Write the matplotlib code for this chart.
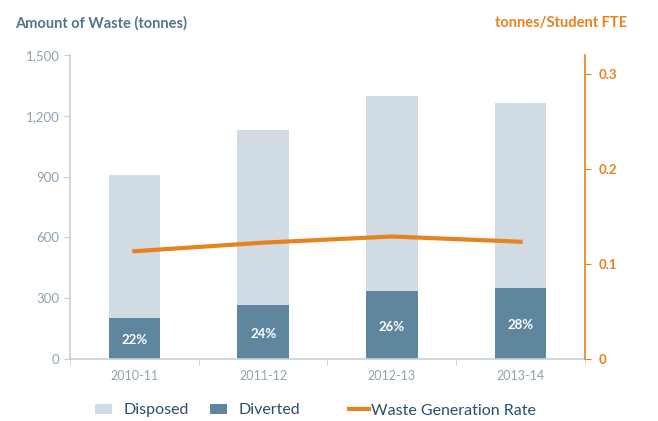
import matplotlib
matplotlib.use("Agg")
import matplotlib.pyplot as plt
import numpy as np
from matplotlib.ticker import FuncFormatter

# ---- data ------------------------------------------------------------------
years = ["2010-11", "2011-12", "2012-13", "2013-14"]
total_waste = [908, 1130, 1298, 1263]        # disposed + diverted (tonnes)
diverted = [202, 266, 335, 350]              # tonnes
diversion_pct = ["22%", "24%", "26%", "28%"]
rate = [0.1135, 0.1225, 0.129, 0.1235]       # tonnes / student FTE

# ---- style -----------------------------------------------------------------
plt.rcParams["font.family"] = ["Lato", "DejaVu Sans"]
C_DISP = "#d0dbe3"
C_DIV = "#5e879f"
C_ORANGE = "#e8821e"
C_TITLE = "#567489"
C_TICK = "#8ea4b4"
C_SPINE = "#c3d0da"
C_LEG = "#2a4d6e"

fig = plt.figure(figsize=(6.58, 4.21), dpi=100)
ax = fig.add_axes([0.1064, 0.1473, 0.7826, 0.7217])

x = np.arange(len(years))
disposed = [t - d for t, d in zip(total_waste, diverted)]
w = 0.4
ax.bar(x, diverted, w, color=C_DIV, label="Diverted", zorder=2)
ax.bar(x, disposed, w, bottom=diverted, color=C_DISP, label="Disposed", zorder=2)

for xi, d, p in zip(x, diverted, diversion_pct):
    ax.text(xi, d * 0.5 - 8, p, ha="center", va="center", color="white",
            fontsize=9.5, fontweight="bold")

ax.set_xlim(-0.5, len(years) - 0.5)
ax.set_ylim(0, 1500)
ax.set_yticks(np.arange(0, 1501, 300))
ax.yaxis.set_major_formatter(FuncFormatter(lambda v, _: f"{int(v):,}"))
ax.set_xticks(x)
ax.set_xticklabels(years)
ax.set_xticks(np.arange(-0.5, len(years)), minor=True)
ax.tick_params(axis="x", which="major", length=0, colors=C_TICK, labelsize=9, pad=8)
ax.tick_params(axis="x", which="minor", length=4, color=C_SPINE, direction="out")
ax.tick_params(axis="y", length=4, color=C_SPINE, labelcolor=C_TICK, labelsize=9.5)
for s in ["top", "right"]:
    ax.spines[s].set_visible(False)
for s in ["left", "bottom"]:
    ax.spines[s].set_color(C_SPINE)
    ax.spines[s].set_linewidth(1.2)

ax2 = ax.twinx()
ax2.plot(x, rate, color=C_ORANGE, lw=3, label="Waste Generation Rate", zorder=3)
ax2.set_ylim(0, 0.32)
ax2.set_yticks([0, 0.1, 0.2, 0.3])
ax2.set_yticklabels(["0", "0.1", "0.2", "0.3"])
ax2.tick_params(axis="y", length=4, color=C_ORANGE, labelcolor=C_ORANGE,
                labelsize=9.5, pad=6)
for lbl in ax2.get_yticklabels():
    lbl.set_fontweight("bold")
for s in ["top", "left", "bottom"]:
    ax2.spines[s].set_visible(False)
ax2.spines["right"].set_color(C_ORANGE)
ax2.spines["right"].set_linewidth(1.2)

fig.text(0.023, 0.945, "Amount of Waste (tonnes)", color=C_TITLE,
         fontsize=10.5, fontweight="bold", ha="left", va="center")
fig.text(0.953, 0.945, "tonnes/Student FTE", color=C_ORANGE,
         fontsize=10.5, fontweight="bold", ha="right", va="center")

# legend: bars and line placed separately (different handle spacing)
h1, l1 = ax.get_legend_handles_labels()
h2, l2 = ax2.get_legend_handles_labels()
leg1 = fig.legend([h1[1], h1[0]], [l1[1], l1[0]], loc="center",
                  bbox_to_anchor=(0.300, 0.025), ncol=2, frameon=False,
                  fontsize=11.5, handlelength=1.1, handleheight=0.55,
                  columnspacing=1.3, handletextpad=0.7)
leg2 = fig.legend(h2, l2, loc="center", bbox_to_anchor=(0.672, 0.025),
                  frameon=False, fontsize=11.5, handlelength=1.3,
                  handletextpad=0.1)
for lg in (leg1, leg2):
    for t in lg.get_texts():
        t.set_color(C_LEG)

fig.savefig("out.png", dpi=100)
